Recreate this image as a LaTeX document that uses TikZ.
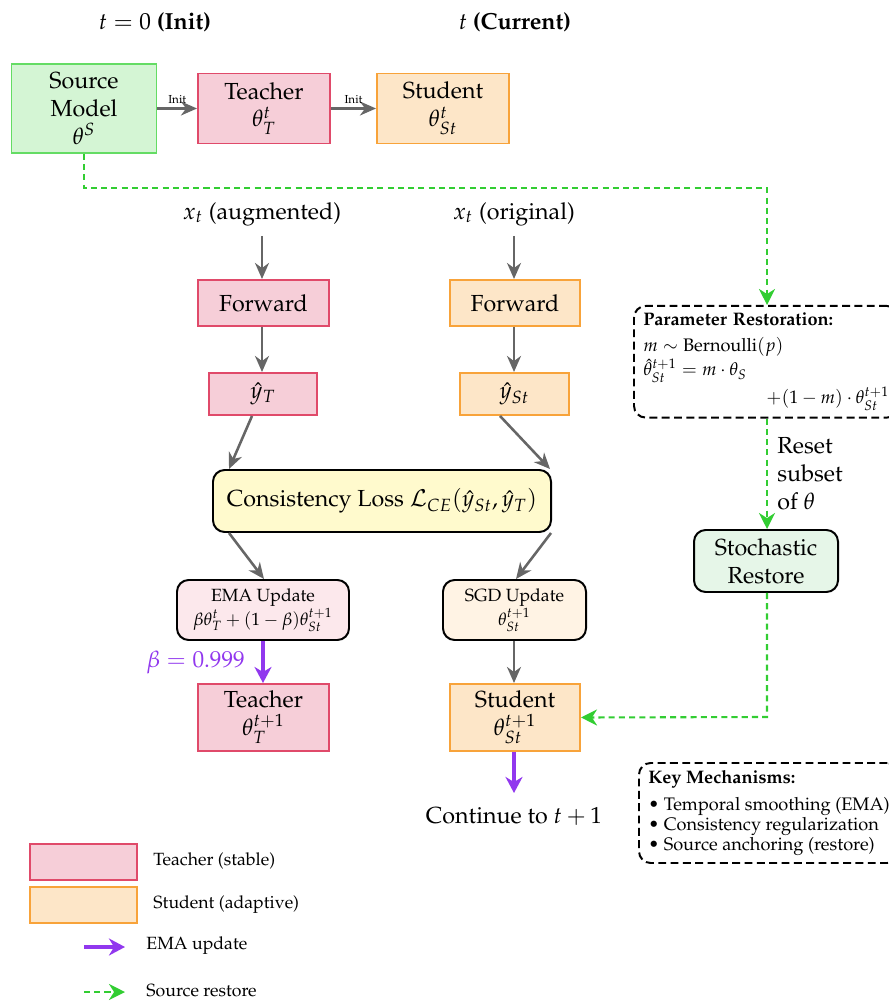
\documentclass[tikz,border=0pt]{standalone}
\usepackage[T1]{fontenc}
\usepackage{mathpazo}
\usetikzlibrary{arrows.meta,positioning,calc}
\newdimen\pxu \pxu=0.43pt
\definecolor{tfill}{RGB}{246,206,216}
\definecolor{tline}{RGB}{224,74,106}
\definecolor{sfill}{RGB}{253,230,200}
\definecolor{sline}{RGB}{248,163,58}
\definecolor{gfill}{RGB}{212,245,212}
\definecolor{gline}{RGB}{100,220,100}
\definecolor{emafill}{RGB}{252,232,236}
\definecolor{sgdfill}{RGB}{255,243,228}
\definecolor{lossfill}{RGB}{255,250,205}
\definecolor{stfill}{RGB}{230,246,232}
\definecolor{purp}{RGB}{145,56,238}
\definecolor{gdash}{RGB}{50,205,50}
\definecolor{garr}{RGB}{102,102,102}
\tikzset{
  box/.style={draw, line width=0.85pt, inner sep=0pt, align=center},
  tbox/.style={box, draw=tline, fill=tfill},
  sbox/.style={box, draw=sline, fill=sfill},
  gbox/.style={box, draw=gline, fill=gfill},
  rbox/.style={box, draw=black, rounded corners=5pt},
  dbox/.style={draw=black, line width=0.85pt, dash pattern=on 3.4pt off 1.9pt, rounded corners=5pt, inner xsep=4pt, inner ysep=3pt, align=left},
  smallf/.style={font=\fontsize{7.6}{9}\selectfont},
  boxf/.style={font=\fontsize{7.8}{8.6}\selectfont},
  garrow/.style={draw=garr, line width=1.1pt, -{Stealth[length=6.9pt,width=6pt,inset=2.2pt]}},
  parrow/.style={draw=purp, line width=1.6pt, -{Stealth[length=6.9pt,width=7.3pt,inset=2.2pt]}},
  gdarrow/.style={draw=gdash, line width=0.9pt, dash pattern=on 2.6pt off 1.8pt, -{Stealth[length=6.9pt,width=6.9pt,inset=2.2pt]}},
}
\begin{document}
\begin{tikzpicture}[x=0.43pt,y=-0.43pt]
\useasboundingbox (0,0) rectangle (888,1001);
% headers
\node (h0) at (155,22) {$t=0$ \textbf{(Init)}};
\node (h1) at (515,22) {$t$ \textbf{(Current)}};
% top row
\node[gbox, minimum width=145\pxu, minimum height=89\pxu] (src) at (84,108.5) {Source\\Model\\$\theta^S$};
\node[tbox, minimum width=132\pxu, minimum height=70\pxu] (t0) at (264,108.5) {Teacher\\$\theta_T^t$};
\node[sbox, minimum width=132\pxu, minimum height=70\pxu] (s0) at (443,108.5) {Student\\$\theta_{St}^t$};
\draw[garrow] (src.east |- t0.west) -- node[above, font=\tiny, inner sep=1.5pt] {Init} (t0.west);
\draw[garrow] (t0.east) -- node[above, font=\tiny, inner sep=1.5pt] {Init} (s0.west);
% inputs
\node (xa) at (262,214) {$x_t$ (augmented)};
\node (xo) at (514,214) {$x_t$ (original)};
\node[tbox, minimum width=131\pxu, minimum height=46\pxu] (fT) at (263.5,303) {Forward};
\node[sbox, minimum width=130\pxu, minimum height=46\pxu] (fS) at (515,303) {Forward};
\node[tbox, minimum width=108\pxu, minimum height=42\pxu] (yT) at (263,394) {$\hat y_T$};
\node[sbox, minimum width=109\pxu, minimum height=42\pxu] (yS) at (514.5,394) {$\hat y_{St}$};
\draw[garrow] (262,236) -- (fT.north -| 262,0);
\draw[garrow] (514,236) -- (fS.north -| 514,0);
\draw[garrow] (fT.south -| 262,0) -- (yT.north -| 262,0);
\draw[garrow] (fS.south -| 514,0) -- (yS.north -| 514,0);
% loss
\node[rbox, fill=lossfill, minimum width=338\pxu, minimum height=62\pxu] (loss) at (382,501) {Consistency Loss $\mathcal{L}_{CE}(\hat y_{St},\hat y_T)$};
\draw[garrow] (yT.south -| 252,0) -- (loss.north -| 229,0);
\draw[garrow] (yS.south -| 500,0) -- (loss.north -| 550,0);
% updates
\node[rbox, fill=emafill, minimum width=172\pxu, minimum height=60\pxu, smallf] (ema) at (263,610) {EMA Update\\$\beta\theta_T^t+(1-\beta)\theta_{St}^{t+1}$};
\node[rbox, fill=sgdfill, minimum width=143\pxu, minimum height=60\pxu, smallf] (sgd) at (514.5,610) {SGD Update\\$\theta_{St}^{t+1}$};
\draw[garrow] (loss.south -| 229,0) -- (ema.north -| 264,0);
\draw[garrow] (loss.south -| 551,0) -- (sgd.north -| 516,0);
\node[tbox, minimum width=131\pxu, minimum height=67\pxu] (t1) at (263.5,717.5) {Teacher\\$\theta_T^{t+1}$};
\node[sbox, minimum width=130\pxu, minimum height=67\pxu] (s1) at (515,717.5) {Student\\$\theta_{St}^{t+1}$};
\draw[parrow] (ema.south -| 263,0) -- node[left, text=purp, inner sep=7pt] {$\beta=0.999$} (t1.north -| 263,0);
\draw[garrow] (sgd.south -| 514,0) -- (s1.north -| 514,0);
\coordinate (contend) at (514,793);
\draw[parrow] (s1.south -| 514,0) -- (contend);
\node (cont) at (514,816) {Continue to $t+1$};
% restoration
\node[dbox, anchor=north west, minimum height=108\pxu, text width=246\pxu, boxf] (param) at (633,305) {\textbf{Parameter Restoration:}\\[2.4pt]$m\sim{}$Bernoulli$(p)$\\$\hat\theta_{St}^{t+1}=m\cdot\theta_S$\\[1pt]\hfill$+(1-m)\cdot\theta_{St}^{t+1}$};
\node[rbox, fill=stfill, minimum width=144\pxu, minimum height=62\pxu] (st) at (766,561) {Stochastic\\Restore};
\draw[gdarrow] (src.south) -- (84,188) -- (767,188) -- (param.north -| 767,0);
\draw[gdarrow] (param.south -| 767,0) -- node[right, align=left, inner sep=4pt] {Reset\\subset\\of $\theta$} (st.north -| 767,0);
\draw[gdarrow] (st.south -| 767,0) -- (767,717) -- (s1.east);
% key
\node[dbox, anchor=north west, minimum height=100\pxu, boxf] (key) at (638,762) {\textbf{Key Mechanisms:}\\[2.6pt]\textbullet\ Temporal smoothing (EMA)\\\textbullet\ Consistency regularization\\\textbullet\ Source anchoring (restore)};
% legend
\node[tbox, minimum width=107\pxu, minimum height=36\pxu] (lt) at (83.5,862) {};
\node[sbox, minimum width=107\pxu, minimum height=36\pxu] (ls) at (83.5,905) {};
\node[anchor=west, smallf, inner sep=0pt] (ltt) at (153,861) {Teacher (stable)};
\node[anchor=west, smallf, inner sep=0pt] (lst) at (153,905) {Student (adaptive)};
\coordinate (pa1) at (84,947); \coordinate (pa2) at (125,947);
\coordinate (ga1) at (84,992); \coordinate (ga2) at (125,992);
\draw[parrow] (pa1) -- (pa2);
\draw[gdarrow] (ga1) -- (ga2);
\node[anchor=west, smallf, inner sep=0pt] (lpt) at (146,946) {EMA update};
\node[anchor=west, smallf, inner sep=0pt] (lgt) at (146,991) {Source restore};
\end{tikzpicture}
\end{document}
